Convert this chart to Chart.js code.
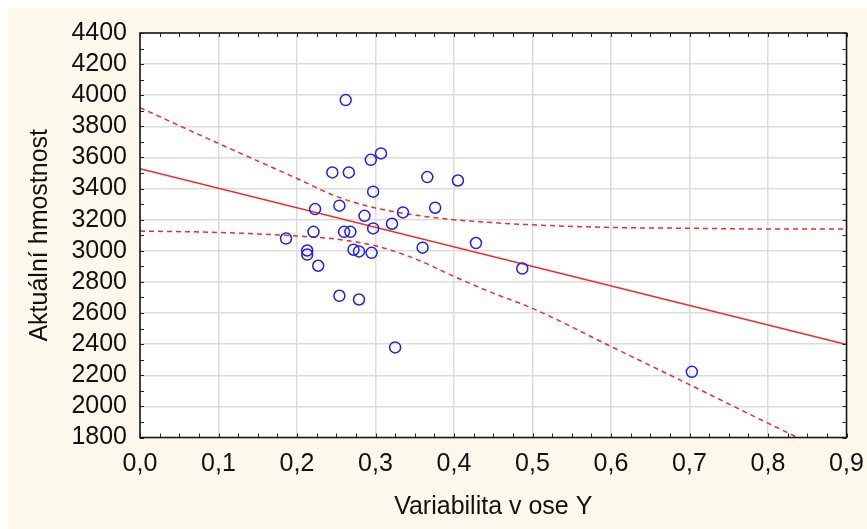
<!DOCTYPE html>
<html>
<head>
<meta charset="utf-8">
<script src="https://cdn.jsdelivr.net/npm/chart.js@4.4.1/dist/chart.umd.min.js"></script>
<style>
  html, body { margin: 0; padding: 0; background: #ffffff; }
  canvas { display: block; }
</style>
</head>
<body>
<canvas id="graf" width="867" height="529"></canvas>
<script>
// Naměřené body (variabilita v ose Y, aktuální hmotnost)
const variabilita = [0.307, 0.294, 0.245, 0.266, 0.366, 0.405, 0.297, 0.223, 0.254, 0.376,
                     0.335, 0.286, 0.321, 0.297, 0.221, 0.260, 0.268, 0.186, 0.428, 0.360,
                     0.272, 0.279, 0.295, 0.213, 0.213, 0.227, 0.487, 0.254, 0.279, 0.262,
                     0.325, 0.703];
const hmotnost = [3626, 3585, 3504, 3504, 3474, 3452, 3380, 3268, 3290, 3277,
                  3247, 3225, 3174, 3144, 3122, 3122, 3122, 3079, 3050, 3020,
                  3007, 2996, 2987, 3002, 2976, 2904, 2886, 2711, 2687, 3969,
                  2379, 2222];

// Regresní přímka (konce)
const primkaX = [0.0, 0.9];
const primkaY = [3527, 2398];

// Pás spolehlivosti
const horniX = [0.0, 0.1, 0.2, 0.25, 0.3, 0.35, 0.4, 0.5, 0.6, 0.7, 0.8, 0.9];
const horniY = [3920, 3690, 3465, 3350, 3275, 3230, 3200, 3167, 3150, 3145, 3140, 3140];
const dolniX = [0.0, 0.1, 0.2, 0.25, 0.3, 0.35, 0.4, 0.45, 0.5, 0.6, 0.7, 0.8, 0.9];
const dolniY = [3127, 3118, 3095, 3075, 3032, 2950, 2835, 2728, 2630, 2385, 2140, 1892, 1650];

// Osy
const osaX = { min: 0, max: 0.9, krok: 0.1, vedlejsi: 0.025 };
const osaY = { min: 1800, max: 4400, krok: 200, vedlejsi: 100 };

const body = (xs, ys) => xs.map((x, i) => ({ x: x, y: ys[i] }));

const PISMO = "'Liberation Sans', Arial, sans-serif";
const CERVENA = '#f22b2b';

// Pozadí a rámeček s drobnými dílky dovnitř
const pozadi = {
    id: 'pozadi',
    beforeDraw(chart) {
        const { ctx, chartArea: a } = chart;
        ctx.save();
        ctx.fillStyle = '#ffffff';
        ctx.fillRect(0, 0, chart.width, chart.height);
        ctx.fillStyle = '#fdf8ec';
        ctx.fillRect(8, 8, chart.width - 8, chart.height - 8);
        ctx.fillStyle = '#ffffff';
        ctx.fillRect(a.left, a.top, a.right - a.left, a.bottom - a.top);
        ctx.restore();
    },
    afterDraw(chart) {
        const { ctx, chartArea: a, scales } = chart;
        ctx.save();
        ctx.strokeStyle = '#222';
        ctx.lineWidth = 1;
        ctx.beginPath();
        for (let v = osaX.min; v <= osaX.max + 1e-9; v += osaX.vedlejsi) {
            const px = Math.round(scales.x.getPixelForValue(v)) + 0.5;
            ctx.moveTo(px, a.bottom); ctx.lineTo(px, a.bottom - 4);
            ctx.moveTo(px, a.top); ctx.lineTo(px, a.top + 4);
        }
        for (let v = osaY.min; v <= osaY.max + 1e-9; v += osaY.vedlejsi) {
            const py = Math.round(scales.y.getPixelForValue(v)) + 0.5;
            ctx.moveTo(a.left, py); ctx.lineTo(a.left + 4, py);
            ctx.moveTo(a.right, py); ctx.lineTo(a.right - 4, py);
        }
        ctx.stroke();
        ctx.lineWidth = 1.6;
        ctx.strokeStyle = '#1a1a1a';
        ctx.strokeRect(a.left, a.top, a.right - a.left, a.bottom - a.top);
        ctx.restore();
    }
};

new Chart(document.getElementById('graf').getContext('2d'), {
    type: 'scatter',
    data: {
        datasets: [
            {
                data: body(variabilita, hmotnost),
                pointStyle: 'circle',
                pointRadius: 5.5,
                pointBorderWidth: 1.5,
                pointBorderColor: '#1f1ff2',
                pointBackgroundColor: 'rgba(0,0,0,0)',
                showLine: false
            },
            {
                type: 'line',
                data: body(primkaX, primkaY),
                borderColor: CERVENA,
                borderWidth: 1.5,
                pointRadius: 0,
                tension: 0
            },
            {
                type: 'line',
                data: body(horniX, horniY),
                borderColor: CERVENA,
                borderWidth: 1.5,
                borderDash: [5, 4],
                pointRadius: 0,
                cubicInterpolationMode: 'monotone'
            },
            {
                type: 'line',
                data: body(dolniX, dolniY),
                borderColor: CERVENA,
                borderWidth: 1.5,
                borderDash: [5, 4],
                pointRadius: 0,
                cubicInterpolationMode: 'monotone'
            }
        ]
    },
    options: {
        responsive: false,
        animation: false,
        events: [],
        layout: { padding: { left: 0, top: 33, right: 20.5, bottom: 0 } },
        plugins: {
            legend: { display: false },
            tooltip: { enabled: false }
        },
        scales: {
            x: {
                type: 'linear',
                min: osaX.min,
                max: osaX.max,
                afterFit: (scale) => {
                    scale.height = 91.5;
                    scale.paddingLeft = 0;
                    scale.paddingRight = 0;
                },
                grid: { color: '#dcdcdc', lineWidth: 1.5, drawTicks: false },
                border: { display: false },
                ticks: {
                    stepSize: osaX.krok,
                    autoSkip: false,
                    maxRotation: 0,
                    padding: 12,
                    color: '#111',
                    font: { family: PISMO, size: 25 },
                    callback: (v) => v.toFixed(1).replace('.', ',')
                },
                title: {
                    display: true,
                    text: 'Variabilita v ose Y',
                    color: '#111',
                    font: { family: PISMO, size: 25 },
                    padding: { top: 0, bottom: 7 }
                }
            },
            y: {
                type: 'linear',
                min: osaY.min,
                max: osaY.max,
                afterFit: (scale) => {
                    scale.width = 140;
                    scale.paddingTop = 0;
                    scale.paddingBottom = 0;
                },
                grid: { color: '#dcdcdc', lineWidth: 1.5, drawTicks: false },
                border: { display: false },
                ticks: {
                    stepSize: osaY.krok,
                    autoSkip: false,
                    padding: 13,
                    color: '#111',
                    font: { family: PISMO, size: 25 },
                    callback: (v) => String(v)
                },
                title: {
                    display: true,
                    text: 'Aktuální hmostnost',
                    color: '#111',
                    font: { family: PISMO, size: 25 },
                    padding: { top: 25, bottom: 0 }
                }
            }
        }
    },
    plugins: [pozadi]
});
</script>
</body>
</html>
